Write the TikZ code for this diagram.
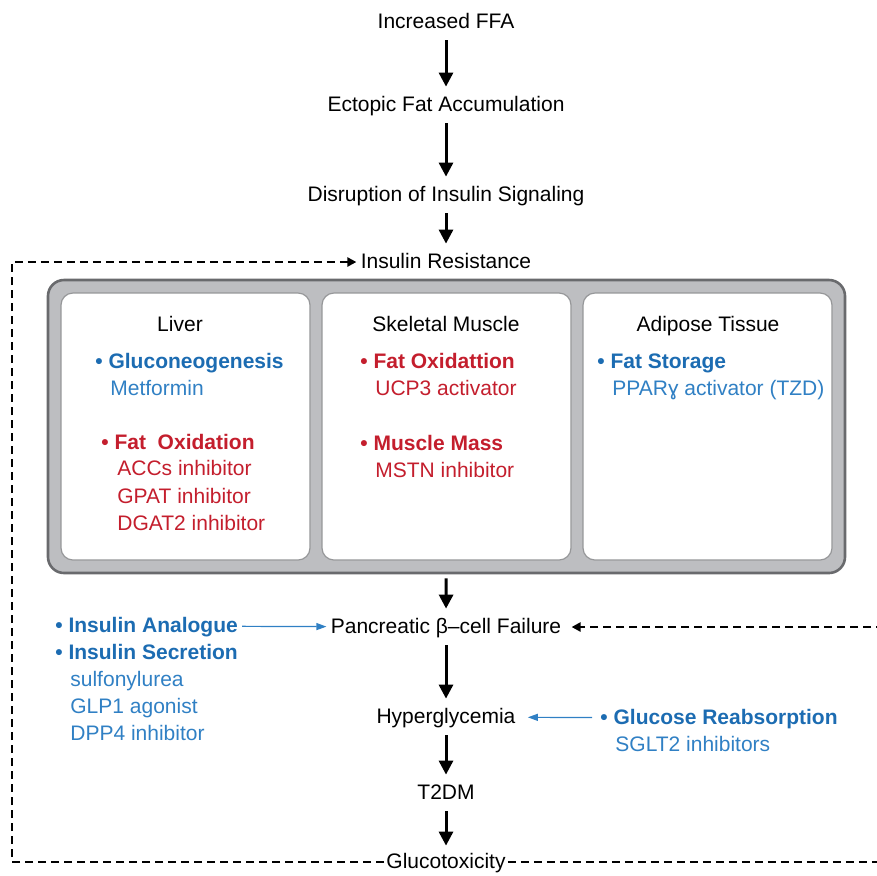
\documentclass[tikz,border=0pt]{standalone}
\usepackage{fontspec}
\setmainfont{Liberation Sans}
\usetikzlibrary{arrows.meta,positioning}

\definecolor{hdblue}{RGB}{28,108,178}
\definecolor{drblue}{RGB}{48,128,196}
\definecolor{hdred}{RGB}{196,30,45}
\definecolor{boxgray}{RGB}{189,190,193}
\definecolor{rimgray}{RGB}{105,106,109}

\begin{document}
\begin{tikzpicture}[
        x=0.5pt, y=-0.5pt,
        every node/.style={inner sep=2pt, text height=8pt, text depth=2pt, font=\fontsize{10.5}{12}\selectfont},
        flow/.style={-{Triangle[width=7pt,length=7pt]}, line width=1.5pt, shorten <=2pt, shorten >=2pt},
        feedback/.style={-{Triangle[width=4.5pt,length=4.5pt]}, line width=1.3pt, dash pattern=on 4pt off 2.5pt},
        drug/.style={-{Triangle[width=3.5pt,length=5pt]}, drblue, line width=0.6pt},
        tissue/.style={draw=rimgray, fill=boxgray, line width=1.3pt, rounded corners=8pt, minimum width=398.5pt, minimum height=146.5pt},
        organ/.style={draw=rimgray!70, fill=white, line width=0.6pt, rounded corners=6pt, minimum width=124.5pt, minimum height=133.5pt},
        head/.style={anchor=west, font=\fontsize{10.5}{12}\selectfont\bfseries},
        item/.style={anchor=west}
    ]
    \useasboundingbox (0,0) rectangle (877,875);

    % Nodes
    \node (ffa) at (446,22) {Increased FFA};
    \node (ecto) at (446,105) {Ectopic Fat Accumulation};
    \node (disr) at (446,195) {Disruption of Insulin Signaling};
    \node (ir) at (446,262) {Insulin Resistance};

    \node[tissue] (tis) at (446.5,426.5) {};
    \node[organ] (liver) at (185.5,426.5) {};
    \node[organ] (muscle) at (446.5,426.5) {};
    \node[organ] (adipose) at (707.5,426.5) {};

    \node (livert) at (180,325) {Liver};
    \node[head, hdblue] (glu) at (91,362) {\textbullet~Gluconeogenesis};
    \node[item, drblue] (met) at (106,389) {Metformin};
    \node[head, hdred] (fox) at (97,443) {\textbullet~Fat~~Oxidation};
    \node[item, hdred] (acc) at (113,469) {ACCs inhibitor};
    \node[item, hdred] (gpat) at (113,497) {GPAT inhibitor};
    \node[item, hdred] (dgat) at (113,524) {DGAT2 inhibitor};

    \node (musclet) at (446,325) {Skeletal Muscle};
    \node[head, hdred] (mfox) at (356,362) {\textbullet~Fat Oxidattion};
    \node[item, hdred] (ucp) at (371,389) {UCP3 activator};
    \node[head, hdred] (mass) at (356,444) {\textbullet~Muscle Mass};
    \node[item, hdred] (mstn) at (371,471) {MSTN inhibitor};

    \node (adiposet) at (708,325) {Adipose Tissue};
    \node[head, hdblue] (stor) at (593,362) {\textbullet~Fat Storage};
    \node[item, drblue] (ppar) at (608,389) {PPARɣ activator (TZD)};

    \node (beta) at (446,627) {Pancreatic β–cell Failure};
    \node[head, hdblue] (ana) at (51,626) {\textbullet~Insulin Analogue};
    \node[head, hdblue] (sec) at (51,653) {\textbullet~Insulin Secretion};
    \node[item, drblue] (sulf) at (66,680) {sulfonylurea};
    \node[item, drblue] (glp) at (66,707) {GLP1 agonist};
    \node[item, drblue] (dpp) at (66,734) {DPP4 inhibitor};

    \node (hyper) at (446,717) {Hyperglycemia};
    \node[head, hdblue] (reab) at (596,718) {\textbullet~Glucose Reabsorption};
    \node[item, drblue] (sglt) at (611,745) {SGLT2 inhibitors};

    \node (t2dm) at (446,793) {T2DM};
    \node[inner sep=1pt] (gluco) at (446,862) {Glucotoxicity};

    \coordinate (lft) at (12,600);
    \coordinate (rgt) at (884,700);

    % Edges
    \draw[flow] (ffa) -- (ecto);
    \draw[flow] (ecto) -- (disr);
    \draw[flow] (disr) -- (ir);
    \draw[flow] (tis) -- (beta);
    \draw[flow] (beta) -- (hyper);
    \draw[flow] (hyper) -- (t2dm);
    \draw[flow] (t2dm) -- (gluco);

    \draw[drug] (ana) -- (beta);
    \draw[drug, shorten <=2pt, shorten >=4pt] (reab) -- (hyper);

    \draw[feedback] (gluco.west) -| (lft) |- (ir.west);
    \draw[feedback, shorten >=3pt] (gluco.east) -| (rgt) |- (beta.east);

\end{tikzpicture}
\end{document}
